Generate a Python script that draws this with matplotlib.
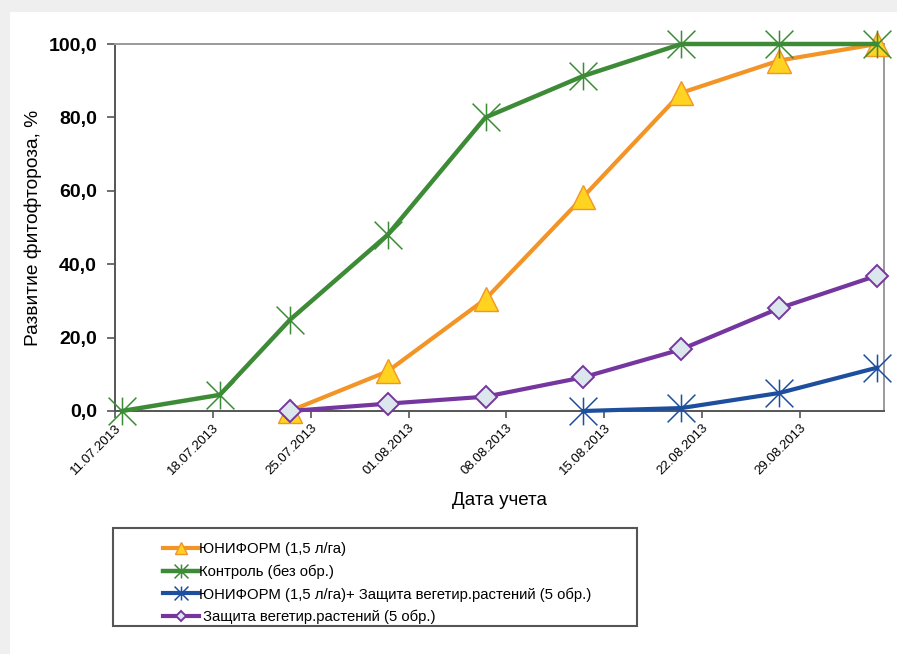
import datetime as dt

import matplotlib
matplotlib.use("Agg")
import matplotlib.pyplot as plt
import matplotlib.dates as mdates
from matplotlib.patches import Rectangle
from matplotlib.path import Path
from matplotlib.ticker import FuncFormatter, MultipleLocator

plt.rcParams["font.family"] = ["Liberation Sans", "DejaVu Sans"]

# Observation dates and disease development (%) per variant
DATES_CONTROL = ["11.07.2013", "18.07.2013", "23.07.2013", "30.07.2013", "06.08.2013",
                 "13.08.2013", "20.08.2013", "27.08.2013", "03.09.2013"]
CONTROL = [0.0, 4.4, 24.8, 48.0, 80.0, 91.3, 100.0, 100.0, 100.0]

DATES_UNIFORM = ["23.07.2013", "30.07.2013", "06.08.2013", "13.08.2013", "20.08.2013",
                 "27.08.2013", "03.09.2013"]
UNIFORM = [0.0, 10.8, 30.5, 58.4, 86.7, 95.5, 100.0]

DATES_PROTECT = ["23.07.2013", "30.07.2013", "06.08.2013", "13.08.2013", "20.08.2013",
                 "27.08.2013", "03.09.2013"]
PROTECT = [0.0, 2.0, 3.9, 9.2, 16.8, 28.0, 36.9]

DATES_COMBO = ["13.08.2013", "20.08.2013", "27.08.2013", "03.09.2013"]
COMBO = [0.0, 0.8, 4.9, 11.8]

LABELS = [
    "ЮНИФОРМ (1,5 л/га)",
    "Контроль (без обр.)",
    "ЮНИФОРМ (1,5 л/га)+ Защита вегетир.растений (5 обр.)",
    " Защита вегетир.растений (5 обр.)",
]

TICK_DATES = ["11.07.2013", "18.07.2013", "25.07.2013", "01.08.2013",
              "08.08.2013", "15.08.2013", "22.08.2013", "29.08.2013"]
AXIS_START = "11.07.2013"
AXIS_END = "04.09.2013"


def parse(s):
    return dt.datetime.strptime(s, "%d.%m.%Y")


def to_dates(strings):
    # points sit in the middle of their day, like a spreadsheet date axis
    return [parse(s) + dt.timedelta(hours=12) for s in strings]


# six-armed star: X plus a vertical stroke
STAR = Path([(0, -1), (0, 1), (-1, -1), (1, 1), (-1, 1), (1, -1)],
            [Path.MOVETO, Path.LINETO] * 3)

W, H = 897, 654
fig = plt.figure(figsize=(W / 100, H / 100), dpi=100, facecolor="#efefef")
fig.patches.append(Rectangle((10 / W, 0), 1, 1 - 12 / H, transform=fig.transFigure,
                             facecolor="white", edgecolor="none", zorder=-10))

ax = fig.add_axes([115 / W, 1 - 411 / H, (884 - 115) / W, (411 - 44) / H])
ax.set_facecolor("white")
ax.set_zorder(2)

c_orange, c_yellow = "#f39426", "#ffd320"
c_green = "#3d8b37"
c_blue = "#1d4f9e"
c_purple = "#7536a0"

ax.plot(to_dates(DATES_UNIFORM), UNIFORM, color=c_orange, lw=3.0, marker="^",
        ms=17, mfc=c_yellow, mec=c_orange, mew=1.0, clip_on=False, zorder=3,
        label=LABELS[0])
ax.plot(to_dates(DATES_CONTROL), CONTROL, color=c_green, lw=3.2, marker=STAR,
        ms=20, mfc="none", mec=c_green, mew=1.1, clip_on=False, zorder=4,
        label=LABELS[1])
ax.plot(to_dates(DATES_COMBO), COMBO, color=c_blue, lw=3.0, marker=STAR,
        ms=20, mfc="none", mec=c_blue, mew=1.1, clip_on=False, zorder=5,
        label=LABELS[2])
ax.plot(to_dates(DATES_PROTECT), PROTECT, color=c_purple, lw=3.0, marker="D",
        ms=11, mfc="#dbe7ec", mec=c_purple, mew=1.4, clip_on=False, zorder=6,
        label=LABELS[3])

ax.set_ylim(0, 100)
ax.yaxis.set_major_locator(MultipleLocator(20))
ax.yaxis.set_major_formatter(FuncFormatter(lambda v, _: f"{v:.1f}".replace(".", ",")))
ax.tick_params(axis="y", labelsize=14, length=6, width=1.2, color="#555555", pad=7)

ax.set_xlim(parse(AXIS_START), parse(AXIS_END))
ax.set_xticks([parse(s) for s in TICK_DATES])
ax.xaxis.set_major_formatter(mdates.DateFormatter("%d.%m.%Y"))
ax.tick_params(axis="x", labelsize=9.5, length=5, width=1.2, color="#555555", pad=3)

fig.canvas.draw()
for lbl in ax.get_yticklabels():
    lbl.set_fontweight("bold")
for lbl in ax.get_xticklabels():
    lbl.set_rotation(45)
    lbl.set_ha("right")
    lbl.set_rotation_mode("anchor")

for side in ("left", "bottom"):
    ax.spines[side].set_color("#555555")
    ax.spines[side].set_linewidth(1.4)
for side in ("top", "right"):
    ax.spines[side].set_color("#9a9a9a")
    ax.spines[side].set_linewidth(1.4)

ax.set_ylabel("Развитие фитофтороза, %", fontsize=13.8)
ax.yaxis.set_label_coords(-0.0955, 0.5)
ax.set_xlabel("Дата учета", fontsize=13.5)
ax.xaxis.set_label_coords(0.5, -0.222)

# legend box below the plot
fig.patches.append(Rectangle((113 / W, 1 - 626 / H), (637 - 113) / W, (626 - 528) / H,
                             transform=fig.transFigure, facecolor="white",
                             edgecolor="#555555", linewidth=1.5, zorder=1))
fig.legend(loc="upper left", bbox_to_anchor=(150 / W, 1 - 529 / H), frameon=False,
           fontsize=10.7, markerscale=0.5, handlelength=2.4, handletextpad=0.0,
           labelspacing=0.55)

fig.savefig("out.png", dpi=100)
